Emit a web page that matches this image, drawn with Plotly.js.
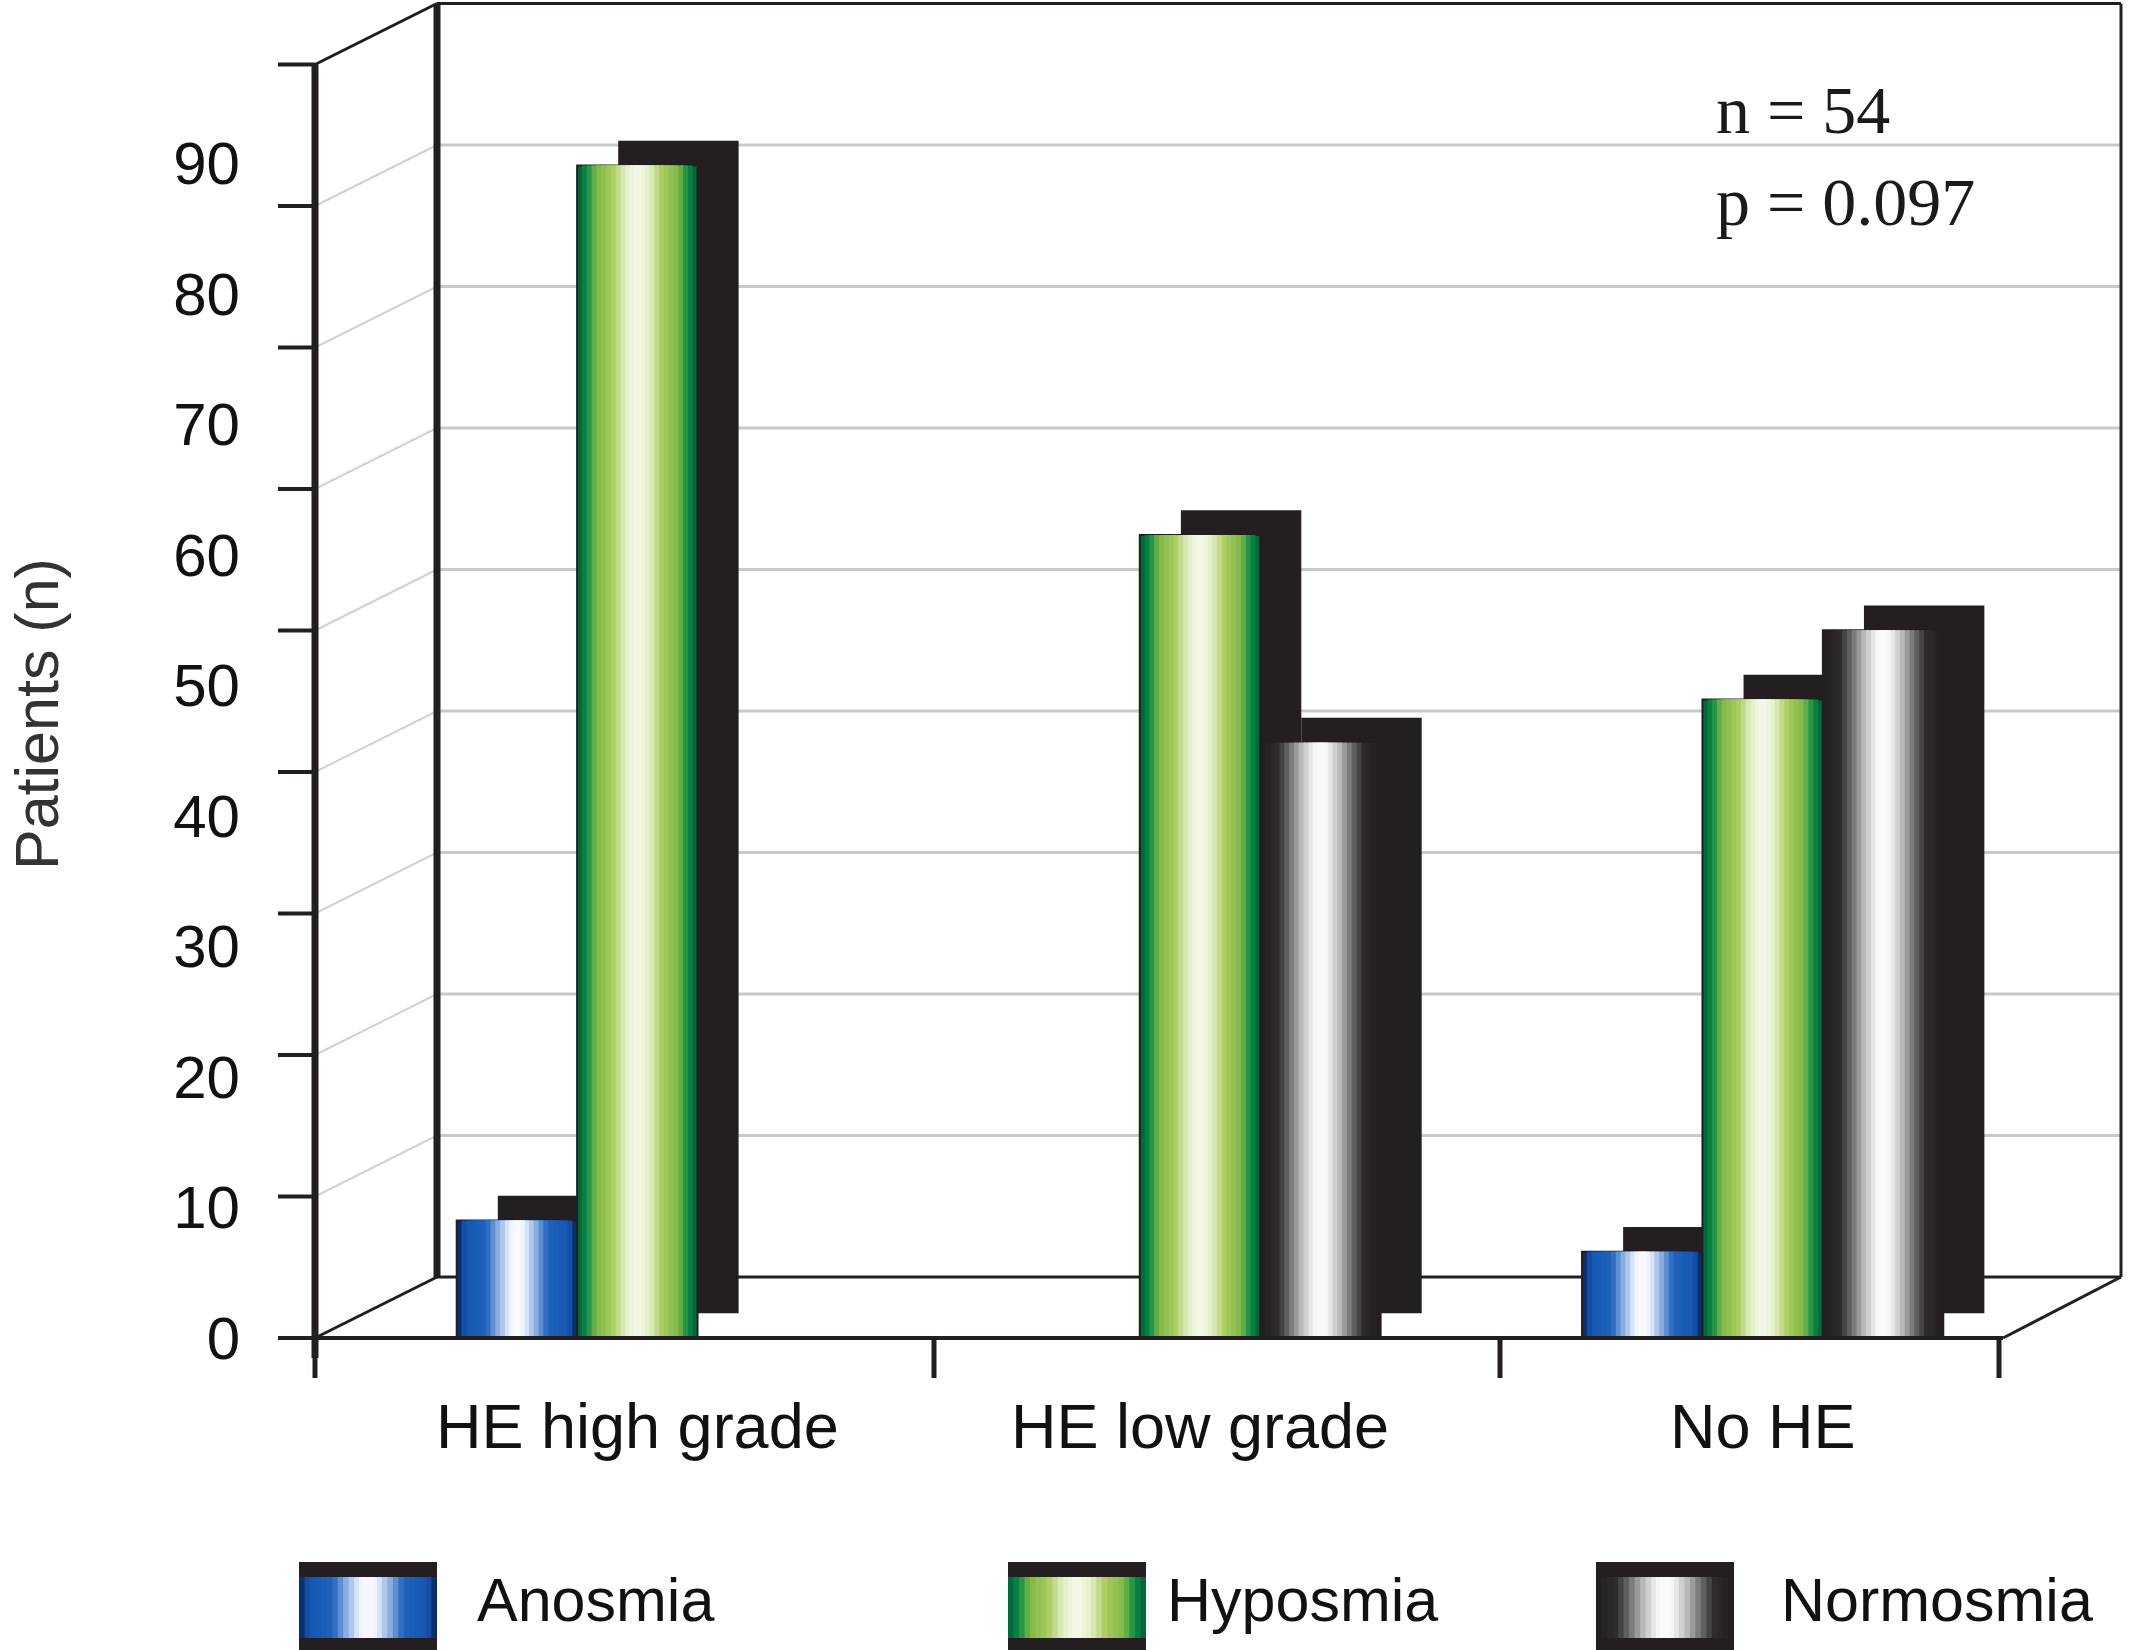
<!DOCTYPE html>
<html>
<head>
<meta charset="utf-8">
<script src="https://cdn.plot.ly/plotly-3.0.1.min.js"></script>
<style>
  html, body { margin: 0; padding: 0; background: #ffffff; }
  #chart { width: 2130px; height: 1650px; }
</style>
</head>
<body>
<div id="chart"></div>
<script>
// ---------------- data ----------------
const categories = ['HE high grade', 'HE low grade', 'No HE'];
const seriesNames = ['Anosmia', 'Hyposmia', 'Normosmia'];
const anosmia   = [9.0, 0, 6.6];
const hyposmia  = [89.8, 61.5, 48.9];
const normosmia = [0, 45.6, 54.2];
const yTickVals = [0, 10, 20, 30, 40, 50, 60, 70, 80, 90];
const yTickText = ['0', '10', '20', '30', '40', '50', '60', '70', '80', '90'];
const yAxisTitle = 'Patients (n)';
const statLines = ['n = 54', 'p = 0.097'];

// ---------------- style ----------------
const W = 2130, H = 1650;
const px = x => x / W;
const py = y => 1 - y / H;
const INK = '#231f20';
const SANS = 'Liberation Sans, Arial, sans-serif';

// cylinder shading stops: [fraction of width (1 = edge, 0 = centre), colour]
const shadeStops = [
  [[1.0, '#0a2f6e'], [0.9, '#1456b0'], [0.55, '#1f63bd'], [0.35, '#8fb0e3'], [0.15, '#eef3fd'], [0.0, '#ffffff']],
  [[1.0, '#006b3a'], [0.88, '#0a8a46'], [0.72, '#7fb848'], [0.45, '#a9cc5e'], [0.25, '#e0edc2'], [0.0, '#fbfcf4']],
  [[1.0, '#231f20'], [0.75, '#2e2c2d'], [0.55, '#707070'], [0.35, '#bdbdbd'], [0.15, '#f4f4f4'], [0.0, '#ffffff']]
];
const layerWidths = [1, 0.92, 0.84, 0.76, 0.68, 0.6, 0.52, 0.44, 0.36, 0.28, 0.2, 0.13, 0.07];

function hexToRgb(h) { return [1, 3, 5].map(i => parseInt(h.substr(i, 2), 16)); }
function shadeAt(stops, w) {
  for (let i = 0; i < stops.length - 1; i++) {
    const [w0, c0] = stops[i], [w1, c1] = stops[i + 1];
    if (w <= w0 && w >= w1) {
      const t = (w0 - w) / (w0 - w1 || 1);
      const a = hexToRgb(c0), b = hexToRgb(c1);
      const c = a.map((v, k) => Math.round(v + (b[k] - v) * t));
      return 'rgb(' + c.join(',') + ')';
    }
  }
  return stops[stops.length - 1][1];
}
const palettes = shadeStops.map(st => layerWidths.map(w => shadeAt(st, w)));

const BAR_W = 0.214;
const centres = [-0.214, 0, 0.214];
const shadowShift = 0.073;
const shadowRise = 1.9;

const seriesValues = [anosmia, hyposmia, normosmia];

// frame geometry (pixels in the 2130x1650 frame)
const FRONT_X = 315, BACK_X = 437;
const FLOOR_FRONT_Y = 1338, FLOOR_BACK_Y = 1277;
const RIGHT_FRONT_X = 2003, RIGHT_BACK_X = 2121;
const FRAME_UNIT = 14.15;       // px per value unit on the frame walls
const LABEL_UNIT = 13.056;      // px per value unit for the labelled axis
const groupTickX = [315, 934, 1500, 1999];

const traces = [];
// dark 3D side / cap blocks
seriesValues.forEach((vals, s) => {
  traces.push({
    type: 'bar', x: categories, y: vals, base: shadowRise,
    offset: centres[s] - BAR_W / 2 + shadowShift, width: BAR_W,
    marker: { color: INK, line: { width: 0 } },
    showlegend: false, hoverinfo: 'skip', name: seriesNames[s] + ' side'
  });
});
// shaded fronts
seriesValues.forEach((vals, s) => {
  layerWidths.forEach((w, i) => {
    traces.push({
      type: 'bar', x: categories, y: vals,
      offset: centres[s] - BAR_W * w / 2, width: BAR_W * w,
      marker: { color: palettes[s][i], line: { width: i === 0 ? 2 : 0, color: INK } },
      showlegend: false, name: seriesNames[s],
      hoverinfo: i === 0 ? 'x+y+name' : 'skip'
    });
  });
});

// ---------------- frame shapes ----------------
const shapes = [];
function seg(x0, y0, x1, y1, color, width, layer) {
  shapes.push({ type: 'line', xref: 'paper', yref: 'paper',
    x0: px(x0), y0: py(y0), x1: px(x1), y1: py(y1),
    line: { color: color, width: width }, layer: layer || 'below' });
}
const frontY = v => FLOOR_FRONT_Y - v * FRAME_UNIT;
const backY = v => FLOOR_BACK_Y - v * FRAME_UNIT;
const topV = yTickVals[yTickVals.length - 1];

// back wall gridlines + left wall diagonals
yTickVals.forEach(v => {
  if (v === 0 || v === topV) return;
  seg(BACK_X, backY(v), RIGHT_BACK_X, backY(v), '#c9c9c9', 3);
  seg(FRONT_X, frontY(v), BACK_X, backY(v), '#d2d2d2', 2);
});
// front axis ticks
yTickVals.forEach(v => {
  seg(FRONT_X - 37, frontY(v), FRONT_X, frontY(v), INK, 4);
});
// walls
seg(BACK_X, backY(0), BACK_X, backY(topV), INK, 7);
seg(BACK_X, backY(topV), RIGHT_BACK_X, backY(topV), INK, 3);
seg(RIGHT_BACK_X, backY(topV), RIGHT_BACK_X, backY(0), INK, 3);
seg(FRONT_X, frontY(topV), BACK_X, backY(topV), INK, 3);
// floor
seg(BACK_X, backY(0), RIGHT_BACK_X, backY(0), INK, 3);
seg(FRONT_X, frontY(0), BACK_X, backY(0), INK, 3);
seg(RIGHT_FRONT_X, frontY(0), RIGHT_BACK_X, backY(0), INK, 3);
seg(FRONT_X, frontY(0), RIGHT_FRONT_X, frontY(0), INK, 4, 'above');
// front axis line
seg(FRONT_X, frontY(0) + 20, FRONT_X, frontY(topV), INK, 7, 'above');
// category boundary ticks
groupTickX.forEach(x => seg(x, frontY(0), x, frontY(0) + 40, INK, 5, 'above'));

// ---------------- custom legend ----------------
const legendBoxX = [299, 1008, 1596];
const legendTextX = [475, 1165, 1779];
const LEG_W = 138, LEG_TOP = 1562, LEG_BOT = 1650, LEG_IN_TOP = 1577, LEG_IN_BOT = 1638;
const annotations = [];
seriesNames.forEach((name, s) => {
  const x0 = legendBoxX[s];
  shapes.push({ type: 'rect', xref: 'paper', yref: 'paper',
    x0: px(x0), x1: px(x0 + LEG_W), y0: py(LEG_BOT), y1: py(LEG_TOP),
    fillcolor: INK, line: { width: 0 }, layer: 'above' });
  layerWidths.forEach((w, i) => {
    const c = x0 + LEG_W / 2;
    shapes.push({ type: 'rect', xref: 'paper', yref: 'paper',
      x0: px(c - LEG_W * w / 2), x1: px(c + LEG_W * w / 2),
      y0: py(LEG_IN_BOT), y1: py(LEG_IN_TOP),
      fillcolor: palettes[s][i], line: { width: 0 }, layer: 'above' });
  });
  annotations.push({ xref: 'paper', yref: 'paper', x: px(legendTextX[s]), y: py(1600),
    xanchor: 'left', yanchor: 'middle', showarrow: false, text: name,
    font: { family: SANS, size: 61, color: '#111111' } });
});

// stats text
annotations.push({ xref: 'paper', yref: 'paper', x: px(1714), y: py(110),
  xanchor: 'left', yanchor: 'middle', showarrow: false, text: statLines[0],
  font: { family: 'Liberation Serif, Times New Roman, serif', size: 68, color: '#1a1a1a' } });
annotations.push({ xref: 'paper', yref: 'paper', x: px(1714), y: py(202),
  xanchor: 'left', yanchor: 'middle', showarrow: false, text: statLines[1],
  font: { family: 'Liberation Serif, Times New Roman, serif', size: 68, color: '#1a1a1a' } });
// y-axis title
annotations.push({ xref: 'paper', yref: 'paper', x: px(37), y: py(714),
  xanchor: 'center', yanchor: 'middle', showarrow: false, textangle: -90,
  text: yAxisTitle,
  font: { family: SANS, size: 61, color: '#333333' } });

const layout = {
  width: W, height: H,
  margin: { l: 0, r: 0, t: 0, b: 0 },
  paper_bgcolor: '#ffffff', plot_bgcolor: 'rgba(0,0,0,0)',
  barmode: 'overlay',
  showlegend: false,
  xaxis: {
    type: 'category', domain: [px(356), px(2044)], anchor: 'y',
    range: [-0.5, 2.5],
    ticks: '', ticklabelstandoff: 46,
    showline: false, showgrid: false, zeroline: false, automargin: false,
    tickfont: { family: SANS, size: 63, color: '#111111' }
  },
  yaxis: {
    domain: [py(FLOOR_FRONT_Y), py(7)],
    range: [0, (FLOOR_FRONT_Y - 7) / LABEL_UNIT],
    anchor: 'free', position: px(FRONT_X), side: 'left',
    tickmode: 'array', tickvals: yTickVals, ticktext: yTickText,
    ticks: '', ticklabelstandoff: 75,
    showline: false, showgrid: false, zeroline: false, automargin: false,
    tickfont: { family: SANS, size: 60, color: '#111111' }
  },
  shapes: shapes,
  annotations: annotations
};

Plotly.newPlot('chart', traces, layout, { displayModeBar: false, staticPlot: true });
</script>
</body>
</html>
